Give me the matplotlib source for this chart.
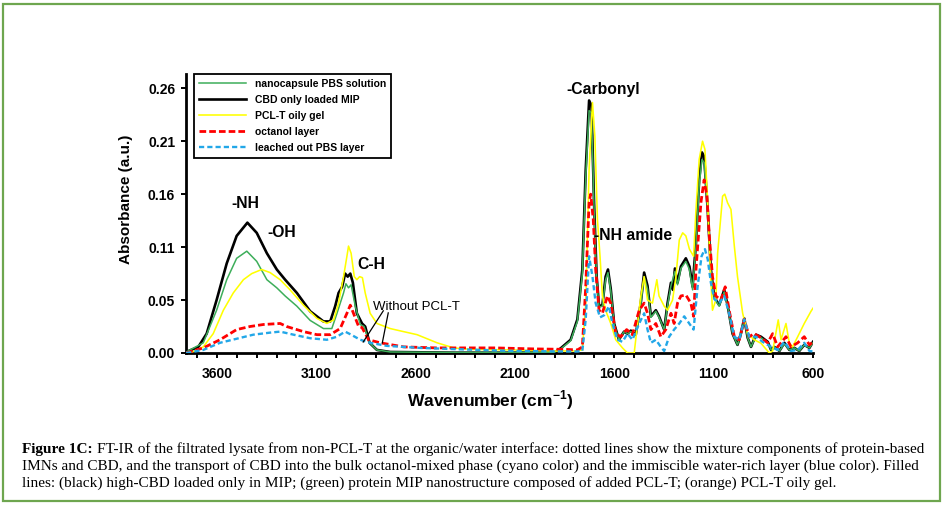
import matplotlib
matplotlib.use('Agg')
import matplotlib.pyplot as plt
from matplotlib.patches import Rectangle
from matplotlib.ticker import FixedLocator, MultipleLocator

# ---------------- data ----------------
series_labels = ["nanocapsule PBS solution", "CBD only loaded MIP", "PCL-T oily gel",
                 "octanol layer", "leached out PBS layer"]

# CBD only loaded MIP (black)
wn_black = [3755, 3694, 3652, 3602, 3551, 3501, 3447, 3400, 3349, 3299,
            3257, 3198, 3131, 3064, 3030, 3005, 2988, 2970, 2955, 2942,
            2929, 2916, 2896, 2870, 2854, 2832, 2795, 2728, 2400, 2100,
            1900, 1870, 1820, 1786, 1761, 1744, 1727, 1715, 1702, 1689,
            1677, 1660, 1644, 1632, 1618, 1601, 1577, 1551, 1534, 1517,
            1492, 1467, 1450, 1433, 1416, 1391, 1375, 1349, 1332, 1315,
            1305, 1295, 1282, 1265, 1240, 1222, 1206, 1189, 1173, 1159,
            1148, 1130, 1114, 1097, 1072, 1047, 1030, 1005, 980, 963,
            946, 929, 912, 887, 862, 828, 811, 795, 769, 744,
            719, 694, 669, 644, 618, 600]
ab_black = [0.001, 0.006, 0.019, 0.052, 0.088, 0.115, 0.128, 0.118, 0.098, 0.082,
            0.072, 0.059, 0.041, 0.031, 0.031, 0.046, 0.059, 0.065, 0.078, 0.075,
            0.078, 0.069, 0.039, 0.029, 0.026, 0.010, 0.003, 0.001, 0.0003, 0.0003,
            0.0006, 0.0046, 0.013, 0.033, 0.082, 0.180, 0.248, 0.243, 0.147, 0.075,
            0.046, 0.047, 0.075, 0.082, 0.063, 0.029, 0.013, 0.021, 0.019, 0.022,
            0.018, 0.049, 0.079, 0.066, 0.036, 0.042, 0.036, 0.023, 0.049, 0.069,
            0.062, 0.083, 0.069, 0.085, 0.093, 0.085, 0.065, 0.108, 0.170, 0.197,
            0.193, 0.141, 0.082, 0.055, 0.047, 0.062, 0.047, 0.019, 0.008, 0.019,
            0.034, 0.015, 0.006, 0.018, 0.016, 0.011, 0.003, 0.006, 0.002, 0.010,
            0.003, 0.005, 0.002, 0.008, 0.005, 0.011]

# nanocapsule PBS solution (green)
wn_green = [3755, 3669, 3602, 3551, 3501, 3450, 3400, 3349, 3299, 3257,
            3198, 3131, 3064, 3022, 2996, 2963, 2951, 2938, 2925, 2904,
            2879, 2860, 2832, 2795, 2728, 2400, 2100, 1900, 1870, 1820,
            1786, 1761, 1744, 1727, 1715, 1702, 1689, 1677, 1660, 1644,
            1632, 1618, 1601, 1577, 1551, 1534, 1517, 1492, 1467, 1450,
            1433, 1416, 1391, 1375, 1349, 1332, 1315, 1295, 1282, 1265,
            1240, 1222, 1206, 1189, 1173, 1159, 1148, 1130, 1114, 1097,
            1072, 1047, 1030, 1005, 980, 963, 946, 929, 912, 887,
            862, 828, 811, 795, 769, 744, 719, 694, 669, 644,
            618, 600]
ab_green = [0.001, 0.010, 0.042, 0.072, 0.093, 0.100, 0.090, 0.072, 0.064, 0.056,
            0.046, 0.032, 0.024, 0.024, 0.039, 0.059, 0.068, 0.064, 0.067, 0.046,
            0.028, 0.026, 0.010, 0.003, 0.001, 0.0005, 0.0005, 0.0008, 0.004, 0.012,
            0.031, 0.078, 0.172, 0.238, 0.236, 0.142, 0.072, 0.045, 0.046, 0.072,
            0.079, 0.061, 0.028, 0.013, 0.021, 0.019, 0.021, 0.018, 0.047, 0.075,
            0.063, 0.035, 0.041, 0.035, 0.023, 0.047, 0.066, 0.080, 0.067, 0.083,
            0.090, 0.082, 0.062, 0.104, 0.164, 0.190, 0.187, 0.137, 0.080, 0.054,
            0.046, 0.060, 0.046, 0.019, 0.008, 0.019, 0.033, 0.015, 0.006, 0.017,
            0.015, 0.010, 0.003, 0.006, 0.002, 0.009, 0.003, 0.005, 0.002, 0.008,
            0.005, 0.010]

# PCL-T oily gel (yellow)
wn_yellow = [3736, 3669, 3619, 3568, 3518, 3467, 3425, 3375, 3333, 3282,
             3232, 3165, 3097, 3047, 3013, 2988, 2963, 2946, 2938, 2925,
             2909, 2896, 2882, 2868, 2854, 2829, 2795, 2728, 2661, 2593,
             2492, 2408, 2324, 2100, 1900, 1800, 1761, 1744, 1727, 1710,
             1698, 1685, 1672, 1660, 1644, 1618, 1593, 1559, 1534, 1500,
             1483, 1467, 1450, 1433, 1408, 1386, 1375, 1349, 1332, 1307,
             1290, 1273, 1256, 1240, 1222, 1201, 1189, 1173, 1156, 1144,
             1130, 1117, 1106, 1089, 1080, 1055, 1044, 1030, 1013, 996,
             980, 954, 929, 896, 862, 820, 803, 775, 761, 736,
             719, 703, 677, 644, 610, 600]
ab_yellow = [0.000, 0.006, 0.019, 0.042, 0.059, 0.072, 0.078, 0.082, 0.079, 0.072,
             0.062, 0.047, 0.034, 0.029, 0.0325, 0.049, 0.075, 0.095, 0.105, 0.098,
             0.075, 0.072, 0.075, 0.074, 0.059, 0.039, 0.029, 0.024, 0.021, 0.018,
             0.010, 0.005, 0.0036, 0.003, 0.002, 0.002, 0.003, 0.049, 0.180, 0.246,
             0.213, 0.131, 0.095, 0.056, 0.042, 0.029, 0.013, 0.005, 0.000, 0.000,
             0.029, 0.0555, 0.075, 0.052, 0.049, 0.072, 0.056, 0.046, 0.042, 0.052,
             0.075, 0.111, 0.118, 0.115, 0.102, 0.095, 0.141, 0.190, 0.208, 0.200,
             0.148, 0.082, 0.042, 0.052, 0.098, 0.154, 0.156, 0.1475, 0.141, 0.105,
             0.075, 0.039, 0.019, 0.013, 0.0096, 0.000, 0.002, 0.0325, 0.013, 0.029,
             0.0096, 0.006, 0.016, 0.029, 0.041, 0.044]

# octanol layer (red, dashed)
wn_red = [3755, 3669, 3585, 3501, 3434, 3366, 3282, 3249, 3165, 3097,
          3030, 2980, 2946, 2929, 2913, 2887, 2870, 2837, 2778, 2661,
          2492, 2358, 2200, 2000, 1850, 1786, 1761, 1744, 1727, 1719,
          1706, 1694, 1677, 1660, 1635, 1618, 1593, 1568, 1538, 1509,
          1475, 1450, 1433, 1416, 1391, 1366, 1341, 1315, 1299, 1282,
          1265, 1240, 1215, 1201, 1189, 1164, 1148, 1134, 1122, 1106,
          1089, 1064, 1042, 1022, 996, 971, 946, 921, 896, 862,
          828, 803, 778, 736, 711, 677, 644, 618, 600]
ab_red = [0.000, 0.005, 0.013, 0.023, 0.026, 0.028, 0.029, 0.026, 0.021, 0.018,
          0.018, 0.024, 0.039, 0.047, 0.039, 0.026, 0.025, 0.013, 0.010, 0.006,
          0.005, 0.005, 0.005, 0.004, 0.0036, 0.003, 0.006, 0.065, 0.148, 0.156,
          0.131, 0.082, 0.042, 0.039, 0.056, 0.049, 0.019, 0.016, 0.023, 0.018,
          0.042, 0.049, 0.039, 0.023, 0.029, 0.016, 0.023, 0.039, 0.029, 0.049,
          0.056, 0.057, 0.049, 0.036, 0.082, 0.148, 0.170, 0.154, 0.115, 0.075,
          0.056, 0.052, 0.065, 0.042, 0.016, 0.013, 0.033, 0.016, 0.019, 0.015,
          0.010, 0.019, 0.006, 0.016, 0.006, 0.010, 0.016, 0.008, 0.011]

# leached out PBS layer (blue, dashed)
wn_blue = [3755, 3669, 3585, 3501, 3417, 3333, 3282, 3215, 3131, 3047,
           2996, 2955, 2925, 2879, 2829, 2745, 2577, 2358, 2100, 1850,
           1786, 1761, 1744, 1727, 1710, 1694, 1672, 1652, 1627, 1610,
           1585, 1559, 1534, 1509, 1475, 1450, 1433, 1416, 1391, 1366,
           1349, 1324, 1299, 1273, 1248, 1223, 1201, 1181, 1161, 1144,
           1130, 1114, 1097, 1072, 1047, 1022, 996, 971, 946, 921,
           887, 854, 811, 778, 744, 711, 677, 644, 618, 600]
ab_blue = [0.000, 0.003, 0.010, 0.014, 0.018, 0.020, 0.021, 0.018, 0.0145, 0.013,
           0.016, 0.021, 0.018, 0.013, 0.010, 0.007, 0.005, 0.0035, 0.002, 0.0015,
           0.0015, 0.002, 0.033, 0.095, 0.075, 0.049, 0.035, 0.037, 0.046, 0.029,
           0.013, 0.011, 0.019, 0.013, 0.029, 0.039, 0.023, 0.010, 0.013, 0.006,
           0.002, 0.016, 0.023, 0.029, 0.036, 0.029, 0.023, 0.065, 0.095, 0.102,
           0.092, 0.069, 0.053, 0.049, 0.056, 0.039, 0.016, 0.013, 0.033, 0.016,
           0.016, 0.011, 0.006, 0.003, 0.011, 0.002, 0.003, 0.010, 0.002, 0.0015]

x_major_ticks = [3600, 3100, 2600, 2100, 1600, 1100, 600]
y_tick_values = [0.0, 0.052, 0.104, 0.156, 0.208, 0.26]
y_tick_labels = ["0.00", "0.05", "0.11", "0.16", "0.21", "0.26"]

annotations = [("-NH", 3456, 0.147), ("-OH", 3272, 0.118), ("C-H", 2823, 0.087),
               ("-Carbonyl", 1656, 0.259), ("-NH amide", 1505, 0.115)]
without_label = ("Without PCL-T", 2596, 0.0456)
without_lines = [((2763, 0.0414), (2864, 0.0108)), ((2738, 0.0394), (2768, 0.0099))]

caption_bold = "Figure 1C:"
caption_lines = [
    "FT-IR of the filtrated lysate from non-PCL-T at the organic/water interface: dotted lines show the mixture components of protein-based",
    "IMNs and CBD, and the transport of CBD into the bulk octanol-mixed phase (cyano color) and the immiscible water-rich layer (blue color). Filled",
    "lines: (black) high-CBD loaded only in MIP; (green) protein MIP nanostructure composed of added PCL-T; (orange) PCL-T oily gel.",
]

# ---------------- figure ----------------
plt.rcParams['font.family'] = ['Liberation Sans', 'DejaVu Sans']
plt.rcParams['mathtext.fontset'] = 'custom'
plt.rcParams['mathtext.rm'] = 'Liberation Sans'
plt.rcParams['mathtext.bf'] = 'Liberation Sans:bold'

W, H = 945, 507
fig = plt.figure(figsize=(W / 100, H / 100), dpi=100)
fig.patch.set_facecolor('white')

# outer green frame
fig.add_artist(Rectangle((3.5 / W, 1 - 500.5 / H), (940.5 - 3.5) / W, (500.5 - 3.5) / H,
                         transform=fig.transFigure, fill=False, edgecolor='#6ea64f', lw=1.6))

ax = fig.add_axes([186 / W, 1 - 353 / H, (813 - 186) / W, (353 - 74) / H])

c_green = '#3dae5a'
c_yellow = '#ffff00'
c_red = '#ff0000'
c_blue = '#22a7e8'

l_black, = ax.plot(wn_black, ab_black, color='black', lw=1.9, zorder=3,
                   solid_joinstyle='round')
l_green, = ax.plot(wn_green, ab_green, color=c_green, lw=1.1, zorder=4)
l_yellow, = ax.plot(wn_yellow, ab_yellow, color=c_yellow, lw=1.15, zorder=5)
l_red, = ax.plot(wn_red, ab_red, color=c_red, lw=2.0, ls=(0, (2.4, 1.1)), zorder=6)
l_blue, = ax.plot(wn_blue, ab_blue, color=c_blue, lw=1.7, ls=(0, (2.2, 1.3)), zorder=7)

ax.set_xlim(3756, 600)
ax.set_ylim(0, 0.274)

for s in ['top', 'right']:
    ax.spines[s].set_visible(False)
for s in ['left', 'bottom']:
    ax.spines[s].set_linewidth(2.0)
    ax.spines[s].set_zorder(2)

ax.xaxis.set_major_locator(FixedLocator(x_major_ticks))
ax.xaxis.set_minor_locator(MultipleLocator(100))
ax.set_yticks(y_tick_values)
ax.set_yticklabels(y_tick_labels)
ax.tick_params(axis='both', which='both', direction='out', width=1.4, length=3.8,
               labelsize=10)
ax.tick_params(axis='x', pad=6)
ax.tick_params(axis='y', pad=4)
for lab in ax.get_xticklabels() + ax.get_yticklabels():
    lab.set_fontweight('bold')

ax.set_xlabel(r'Wavenumber (cm$^{\mathbf{-1}}$)', fontsize=12.5, fontweight='bold')
ax.xaxis.set_label_coords((490 - 186) / 627, -(388 - 353) / 279)
ax.set_ylabel('Absorbance (a.u.)', fontsize=11, fontweight='bold')
ax.yaxis.set_label_coords((133 - 186) / 627, (353 - 199) / 279)

for txt, xx, yy in annotations:
    ax.text(xx, yy, txt, fontsize=11.3, fontweight='bold', ha='center', va='center',
            zorder=10)
ax.text(without_label[1], without_label[2], without_label[0], fontsize=9.5,
        ha='center', va='center', zorder=10)
for (p0, p1) in without_lines:
    ax.plot([p0[0], p1[0]], [p0[1], p1[1]], color='black', lw=0.9, zorder=10)

leg = ax.legend([l_green, l_black, l_yellow, l_red, l_blue], series_labels,
                loc='upper left', bbox_to_anchor=(0.013, 1.0), borderaxespad=0,
                frameon=True, fancybox=False, edgecolor='black', framealpha=1,
                prop={'family': 'Liberation Sans', 'weight': 'bold', 'size': 7.5},
                handlelength=4.5, handletextpad=0.9, borderpad=0.45, labelspacing=0.58)
leg.get_frame().set_linewidth(1.3)
leg.set_zorder(20)

# ---------------- caption ----------------
cap_font = 'Liberation Serif'
x0 = 22
baselines = [453, 470, 487]
x_end = 928


def fx(x):
    return x / W


def fy(y):
    return 1 - y / H


fig.canvas.draw()
r = fig.canvas.get_renderer()
fs = 10.0
tb = fig.text(fx(x0), fy(baselines[0]), caption_bold, fontsize=fs, fontweight='bold',
              family=cap_font, ha='left', va='baseline')
t1 = fig.text(fx(x0), fy(baselines[0]), caption_lines[0], fontsize=fs,
              family=cap_font, ha='left', va='baseline')
for _ in range(3):
    wb = tb.get_window_extent(r).width
    space = fs * 100 / 72 * 0.3
    t1.set_x(fx(x0 + wb + space))
    end = t1.get_window_extent(r).x1
    fs = fs * (x_end - x0) / (end - x0)
    tb.set_fontsize(fs)
    t1.set_fontsize(fs)
wb = tb.get_window_extent(r).width
space = fs * 100 / 72 * 0.3
t1.set_x(fx(x0 + wb + space))
for i in (1, 2):
    fig.text(fx(x0), fy(baselines[i]), caption_lines[i], fontsize=fs,
             family=cap_font, ha='left', va='baseline')

fig.savefig('out.png', dpi=100, facecolor='white')
